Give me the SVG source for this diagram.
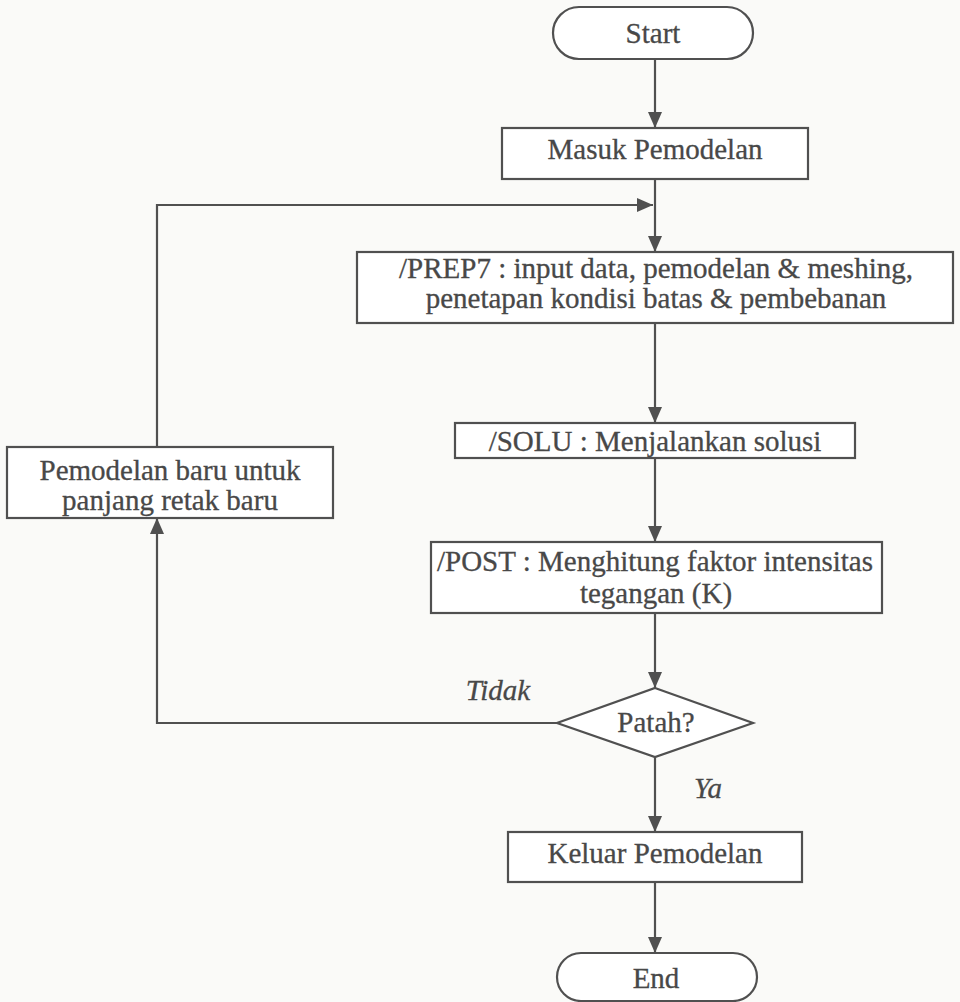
<svg xmlns="http://www.w3.org/2000/svg" width="960" height="1002" viewBox="0 0 960 1002">
<style>
.s{fill:none;stroke:#505050;stroke-width:2.2}
.b{fill:#ffffff;stroke:#505050;stroke-width:2.2}
.t{font-family:'Liberation Serif','Times New Roman',serif;font-size:29px;fill:#484848;stroke:#484848;stroke-width:0.3;text-anchor:middle}
.i{font-style:italic}
</style>
<defs>
<marker id="ah" viewBox="0 0 16 14" refX="16" refY="7" markerWidth="16" markerHeight="14" markerUnits="userSpaceOnUse" orient="auto">
<path d="M0,0 L16,7 L0,14 z" fill="#505050"/>
</marker>
</defs>
<rect width="960" height="1002" fill="#fafaf8"/>
<g id="connectors">
<line class="s" x1="655" y1="59" x2="655" y2="128" marker-end="url(#ah)"/>
<line class="s" x1="655" y1="179" x2="655" y2="252" marker-end="url(#ah)"/>
<polyline class="s" points="157,447 157,205 653,205" marker-end="url(#ah)"/>
<line class="s" x1="655" y1="323" x2="655" y2="423" marker-end="url(#ah)"/>
<line class="s" x1="655" y1="458" x2="655" y2="542" marker-end="url(#ah)"/>
<line class="s" x1="655" y1="613" x2="655" y2="688" marker-end="url(#ah)"/>
<polyline class="s" points="557,723 157,723 157,518" marker-end="url(#ah)"/>
<line class="s" x1="655" y1="757" x2="655" y2="832" marker-end="url(#ah)"/>
<line class="s" x1="655" y1="882" x2="655" y2="953" marker-end="url(#ah)"/>
<text class="t i" x="498" y="700">Tidak</text>
<text class="t i" x="708" y="798">Ya</text>
</g>
<g id="start">
<rect class="b" x="553" y="7" width="200" height="52" rx="26"/>
<text class="t" x="653" y="43">Start</text>
</g>
<g id="masuk">
<rect class="b" x="502" y="128" width="306" height="51"/>
<text class="t" x="655" y="159">Masuk Pemodelan</text>
</g>
<g id="prep7">
<rect class="b" x="357" y="252" width="596" height="71"/>
<text class="t" x="656" y="278">/PREP7 : input data, pemodelan &amp; meshing,</text>
<text class="t" x="656" y="308">penetapan kondisi batas &amp; pembebanan</text>
</g>
<g id="solu">
<rect class="b" x="455" y="423" width="400" height="35"/>
<text class="t" x="655" y="451">/SOLU : Menjalankan solusi</text>
</g>
<g id="post">
<rect class="b" x="431" y="542" width="451" height="71"/>
<text class="t" x="655" y="571">/POST : Menghitung faktor intensitas</text>
<text class="t" x="656" y="603">tegangan (K)</text>
</g>
<g id="patah">
<polygon class="b" points="655,688 753,723 655,757 557,723"/>
<text class="t" x="656" y="732">Patah?</text>
</g>
<g id="baru">
<rect class="b" x="7" y="447" width="326" height="71"/>
<text class="t" x="170" y="480">Pemodelan baru untuk</text>
<text class="t" x="170" y="510">panjang retak baru</text>
</g>
<g id="keluar">
<rect class="b" x="508" y="832" width="294" height="50"/>
<text class="t" x="655" y="863">Keluar Pemodelan</text>
</g>
<g id="end">
<rect class="b" x="557" y="953" width="200" height="48" rx="24"/>
<text class="t" x="656" y="988">End</text>
</g>
</svg>
